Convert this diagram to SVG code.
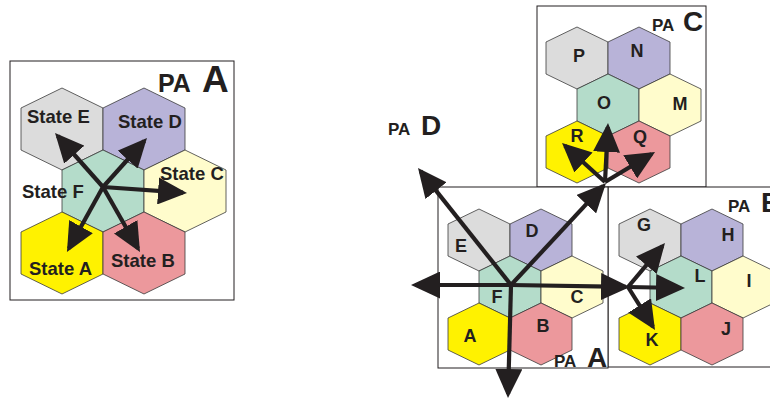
<svg xmlns="http://www.w3.org/2000/svg" xmlns:xlink="http://www.w3.org/1999/xlink" width="770" height="400" viewBox="0 0 770 400">
<style>
.box{fill:#fff;stroke:#231f20;stroke-width:1}
.hx{stroke:#3a3a3a;stroke-width:0.8}
.gy{fill:#dcdcdc}.pu{fill:#b8b3d8}.mi{fill:#b4dcca}.ye{fill:#fffccc}.yl{fill:#fff200}.pk{fill:#ec989c}
text{font-family:"Liberation Sans",Arial,sans-serif;font-weight:bold;fill:#231f20}
.st{font-size:18.5px}
.lt{font-size:18px;text-anchor:middle}
.pa{font-size:17px}
.big{font-size:28px}
.arr{stroke:#231f20;stroke-width:4.2;fill:none;marker-end:url(#ah)}
</style>
<defs>
<path id="hexL" d="M0,-41 L41,-21 L41,21 L0,41 L-41,21 L-41,-21Z"/>
<path id="hexS" d="M0,-31 L31,-16 L31,16 L0,31 L-31,16 L-31,-16Z"/>
<marker id="ah" markerUnits="userSpaceOnUse" viewBox="0 0 29 27" markerWidth="29" markerHeight="27" refX="25" refY="13.5" orient="auto">
<path d="M0,0 L29,13.5 L0,27Z" fill="#231f20"/>
</marker>
</defs>

<g id="panel-left">
<rect class="box" x="10" y="61" width="224" height="239"/>
<text class="pa" x="158" y="92" style="font-size:25px">PA</text>
<text x="202" y="92" style="font-size:37px">A</text>
<g id="stateE"><use xlink:href="#hexL" x="62" y="129" class="hx gy"/><text class="st" x="27" y="123">State E</text></g>
<g id="stateD"><use xlink:href="#hexL" x="144" y="129" class="hx pu"/><text class="st" x="118" y="128">State D</text></g>
<g id="stateF"><use xlink:href="#hexL" x="103" y="191" class="hx mi"/><text class="st" x="22" y="198">State F</text></g>
<g id="stateC"><use xlink:href="#hexL" x="185" y="191" class="hx ye"/><text class="st" x="160" y="180">State C</text></g>
<g id="stateA"><use xlink:href="#hexL" x="62" y="253" class="hx yl"/><text class="st" x="29" y="275">State A</text></g>
<g id="stateB"><use xlink:href="#hexL" x="144" y="253" class="hx pk"/><text class="st" x="111" y="267">State B</text></g>
</g>

<g id="paC">
<rect class="box" x="537" y="6" width="169" height="181"/>
<text class="pa" x="652" y="31">PA</text><text class="big" x="683" y="31">C</text>
<g id="P"><use xlink:href="#hexS" x="577" y="58" class="hx gy"/><text class="lt" x="579" y="62">P</text></g>
<g id="N"><use xlink:href="#hexS" x="639" y="58" class="hx pu"/><text class="lt" x="637" y="57">N</text></g>
<g id="O"><use xlink:href="#hexS" x="608" y="105" class="hx mi"/><text class="lt" x="604" y="109">O</text></g>
<g id="M"><use xlink:href="#hexS" x="670" y="105" class="hx ye"/><text class="lt" x="680" y="110">M</text></g>
<g id="R"><use xlink:href="#hexS" x="577" y="152" class="hx yl"/><text class="lt" x="577" y="142">R</text></g>
<g id="Q"><use xlink:href="#hexS" x="639" y="152" class="hx pk"/><text class="lt" x="640" y="143">Q</text></g>
</g>

<g id="paB">
<rect class="box" x="608" y="187" width="180" height="180"/>
<text class="pa" x="728" y="212">PA</text><text class="big" x="761" y="212">B</text>
<g id="G"><use xlink:href="#hexS" x="650" y="240" class="hx gy"/><text class="lt" x="644" y="231">G</text></g>
<g id="H"><use xlink:href="#hexS" x="712" y="240" class="hx pu"/><text class="lt" x="728" y="241">H</text></g>
<g id="L"><use xlink:href="#hexS" x="681" y="287" class="hx mi"/><text class="lt" x="700" y="282">L</text></g>
<g id="I"><use xlink:href="#hexS" x="743" y="287" class="hx ye"/><text class="lt" x="749" y="287">I</text></g>
<g id="K"><use xlink:href="#hexS" x="650" y="334" class="hx yl"/><text class="lt" x="652" y="346">K</text></g>
<g id="J"><use xlink:href="#hexS" x="712" y="334" class="hx pk"/><text class="lt" x="726" y="335">J</text></g>
</g>

<g id="paA">
<rect class="box" x="438" y="187" width="170" height="181"/>
<g id="E"><use xlink:href="#hexS" x="479" y="240" class="hx gy"/><text class="lt" x="461" y="252">E</text></g>
<g id="D"><use xlink:href="#hexS" x="541" y="240" class="hx pu"/><text class="lt" x="532" y="237">D</text></g>
<g id="F"><use xlink:href="#hexS" x="510" y="287" class="hx mi"/><text class="lt" x="497" y="303">F</text></g>
<g id="C"><use xlink:href="#hexS" x="572" y="287" class="hx ye"/><text class="lt" x="577" y="303">C</text></g>
<g id="A"><use xlink:href="#hexS" x="479" y="334" class="hx yl"/><text class="lt" x="470" y="342">A</text></g>
<g id="B"><use xlink:href="#hexS" x="541" y="334" class="hx pk"/><text class="lt" x="543" y="332">B</text></g>
<text class="pa" x="554" y="367">PA</text><text class="big" x="587" y="367">A</text>
</g>

<g id="paD">
<text class="pa" x="388" y="135">PA</text><text class="big" x="421" y="135">D</text>
</g>

<g id="connectors">
<line class="arr" x1="103" y1="187" x2="57.7" y2="136"/>
<line class="arr" x1="103" y1="187" x2="144.3" y2="141"/>
<line class="arr" x1="103" y1="187" x2="183" y2="192.7"/>
<line class="arr" x1="103" y1="187" x2="68.9" y2="248.5"/>
<line class="arr" x1="103" y1="187" x2="138" y2="248.5"/>

<line class="arr" x1="511" y1="285" x2="420.5" y2="171.1"/>
<line class="arr" x1="511" y1="285" x2="603.3" y2="185.9"/>
<line class="arr" x1="511" y1="285" x2="415" y2="285"/>
<line class="arr" x1="511" y1="285" x2="508.1" y2="394"/>
<line class="arr" x1="511" y1="285" x2="626" y2="286.9"/>

<line class="arr" x1="628" y1="287" x2="662.4" y2="246.1"/>
<line class="arr" x1="628" y1="287" x2="681" y2="288"/>
<line class="arr" x1="628" y1="287" x2="652.9" y2="326.6"/>

<line class="arr" x1="605" y1="182" x2="565" y2="145.7"/>
<line class="arr" x1="605" y1="182" x2="607.8" y2="127"/>
<line class="arr" x1="605" y1="182" x2="651.6" y2="154"/>
</g>
</svg>
